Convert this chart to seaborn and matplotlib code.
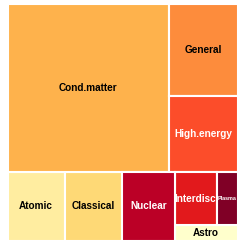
import numpy as np
import matplotlib.pyplot as plt
from matplotlib.patches import Rectangle
import seaborn as sns

# physics subjects (alphabetical -> colour order) and their sizes
categories = ['Astro', 'Atomic', 'Classical', 'Cond.matter', 'General',
              'High.energy', 'Interdisc', 'Nuclear', 'Plasma']
counts = [960, 3800, 3790, 26550, 6120, 5100, 2140, 3520, 1070]


#----------------------------pivot-by-size treemap layout------------------------------
def pivot_layout(items, x, y, w, h, out):
    # items: list of (index, value) sorted big -> small ; y grows downward
    if len(items) == 0:
        return
    if len(items) == 1:
        out[items[0][0]] = (x, y, w, h)
        return
    total = sum(v for _, v in items)
    p = items[0][1]
    rest = items[1:]
    best_k, best_ar = 0, None
    for k in range(len(rest) + 1):
        s = p + sum(v for _, v in rest[:k])
        if w >= h:
            a, b = w * s / total, h * p / s
        else:
            a, b = w * p / s, h * s / total
        ar = max(a / b, b / a)
        if best_ar is None or ar < best_ar:
            best_k, best_ar = k, ar
    l2, l3 = rest[:best_k], rest[best_k:]
    s = p + sum(v for _, v in l2)
    if w >= h:
        cw = w * s / total
        ph = h * p / s
        out[items[0][0]] = (x, y, cw, ph)
        pivot_layout(l2, x, y + ph, cw, h - ph, out)
        pivot_layout(l3, x + cw, y, w - cw, h, out)
    else:
        rh = h * s / total
        pw = w * p / s
        out[items[0][0]] = (x, y, pw, rh)
        pivot_layout(l2, x + pw, y, w - pw, rh, out)
        pivot_layout(l3, x, y + rh, w, h - rh, out)


sns.set_style("white")
plt.rcParams['font.family'] = ['Liberation Sans', 'DejaVu Sans']

W, H = 230.0, 237.0
order = sorted(enumerate(counts), key=lambda t: -t[1])
scale = W * H / sum(counts)
rects = {}
pivot_layout([(i, v * scale) for i, v in order], 0, 0, W, H, rects)

cmap = plt.get_cmap('YlOrRd')
colors = [cmap(t) for t in np.linspace(0, 1, len(categories))]

fig = plt.figure(figsize=(2.45, 2.45), dpi=100)
ax = fig.add_axes([7.5 / 245, 4.5 / 245, W / 245, H / 245])
ax.set_xlim(0, W)
ax.set_ylim(H, 0)
ax.axis('off')

renderer = fig.canvas.get_renderer()
for i, name in enumerate(categories):
    x, y, w, h = rects[i]
    ax.add_patch(Rectangle((x, y), w, h, facecolor=colors[i], edgecolor='white', linewidth=1.5))
    r, g, b, _ = colors[i]
    lum = 0.299 * r + 0.587 * g + 0.114 * b
    tc = 'black' if lum > 0.55 else 'white'
    t = ax.text(x + w / 2, y + h / 2, name, ha='center', va='center',
                fontsize=7.2, fontweight='bold', color=tc)
    tw = t.get_window_extent(renderer=renderer).width
    if tw > w:
        t.set_fontsize(7.2 * w * 0.9 / tw)

plt.savefig('out.png', dpi=100)
